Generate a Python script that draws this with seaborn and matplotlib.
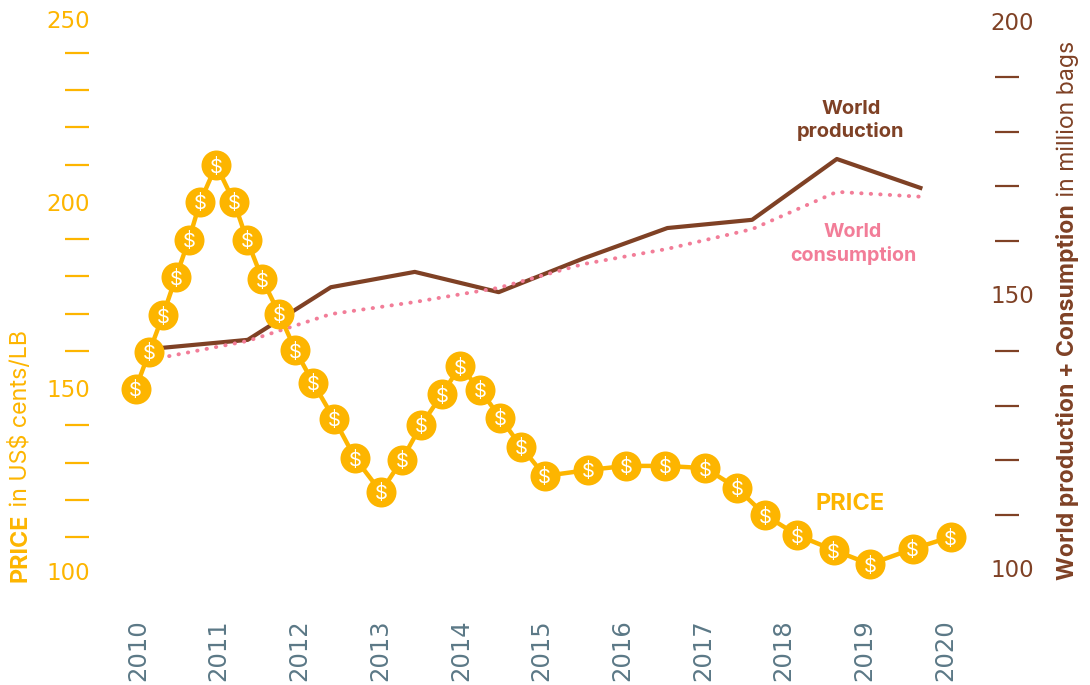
import matplotlib
matplotlib.use('Agg')
import matplotlib.pyplot as plt
import matplotlib.transforms as mtrans
import seaborn as sns

# Price
price_x = [2009.97, 2010.14, 2010.31, 2010.47, 2010.63, 2010.77, 2010.97, 2011.19, 2011.35,
           2011.54, 2011.75, 2011.95, 2012.17, 2012.43, 2012.69, 2013.01, 2013.27, 2013.51,
           2013.77, 2013.99, 2014.24, 2014.49, 2014.75, 2015.04, 2015.58, 2016.05, 2016.53,
           2017.03, 2017.42, 2017.77, 2018.17, 2018.62, 2019.07, 2019.60, 2020.07]
price = [149.8, 159.7, 169.6, 179.8, 189.8, 200.0, 209.9, 200.0, 189.8,
         179.3, 169.9, 160.2, 151.4, 141.7, 131.2, 122.1, 130.7, 140.1,
         148.4, 155.9, 149.5, 142.0, 134.2, 126.4, 128.0, 129.1, 129.1,
         128.5, 123.2, 115.9, 110.5, 106.5, 102.7, 106.8, 110.0]

# Production and consumption share the same x positions
world_x = [2010.27, 2011.36, 2012.39, 2013.43, 2014.47, 2015.51, 2016.56, 2017.61, 2018.66, 2019.72]
production = [140.5, 142.0, 151.6, 154.4, 150.7, 156.8, 162.4, 163.9, 175.0, 169.6]
consumption = [138.7, 141.8, 146.7, 148.9, 151.5, 155.8, 158.6, 162.2, 169.0, 168.1]

years = list(range(2010, 2021))
price_major = [100, 150, 200, 250]
price_minor = [110, 120, 130, 140, 160, 170, 180, 190, 210, 220, 230, 240]
world_major = [100, 150, 200]
world_minor = [110, 120, 130, 140, 160, 170, 180, 190]

YELLOW = '#FDB500'
BROWN = '#7F4125'
PINK = '#F27D98'
SLATE = '#5B7886'
NUMBER_FONT = 'DejaVu Sans'
LABEL_FONT = 'Inter'

sns.set_theme(style='white')
plt.rcParams['font.family'] = [LABEL_FONT, 'DejaVu Sans']

fig, ax = plt.subplots(figsize=(10.9, 6.85), dpi=100)
fig.subplots_adjust(left=89 / 1090, right=995 / 1090, top=1.0, bottom=85 / 685)
ax2 = ax.twinx()
ax.set_zorder(2)
ax.patch.set_visible(False)

# World lines
sns.lineplot(x=world_x, y=production, ax=ax2, color=BROWN, linewidth=3, solid_capstyle='butt')
sns.lineplot(x=world_x, y=consumption, ax=ax2, color=PINK, linewidth=2.8,
             linestyle=(0, (0.1, 2.35)), dash_capstyle='round')

# Price line with coin markers
sns.lineplot(x=price_x, y=price, ax=ax, color=YELLOW, linewidth=3.2, marker='o',
             markersize=21.6, markeredgewidth=0)
for x, y in zip(price_x, price):
    ax.text(x, y, '$', color='white', fontsize=14.5, family=LABEL_FONT,
            ha='center', va='center_baseline', zorder=5)

ax.set_xlim(2009.393, 2020.62)
ax.set_ylim(93.08, 254.24)
ax2.set_ylim(94.53, 204.01)

ax.set_xticks(years)
ax.set_xticklabels(years, rotation=90, color=SLATE, fontsize=17.5, family=NUMBER_FONT)
ax.tick_params(axis='x', length=0, pad=14)

ax.set_yticks(price_major)
ax.set_yticks(price_minor, minor=True)
ax.set_yticklabels(price_major, color=YELLOW, fontsize=16.5, family=NUMBER_FONT)
ax.tick_params(axis='y', which='major', length=0, pad=31)
ax.tick_params(axis='y', which='minor', length=17, width=1.6, color=YELLOW, left=True)

ax2.set_yticks(world_major)
ax2.set_yticks(world_minor, minor=True)
ax2.set_yticklabels(world_major, color=BROWN, fontsize=16.5, family=NUMBER_FONT)
ax2.tick_params(axis='y', which='major', length=0, pad=-3)
ax2.tick_params(axis='y', which='minor', length=17, width=1.6, color=BROWN, right=True)

# The printed numbers sit slightly off their tick positions
for label, dy in zip(ax.get_yticklabels(), [3, 0, 0, -3]):
    label.set_ha('left')
    label.set_transform(label.get_transform() + mtrans.Affine2D().translate(0, dy))
for label, dy in zip(ax2.get_yticklabels(), [2, 2, 1]):
    label.set_ha('left')
    label.set_transform(label.get_transform() + mtrans.Affine2D().translate(0, dy))

sns.despine(ax=ax, left=True, right=True, top=True, bottom=True)
sns.despine(ax=ax2, left=True, right=True, top=True, bottom=True)

# Direct labels
ax2.text(2018.835, 182.0, 'World\nproduction', color=BROWN, fontsize=14.5, fontweight='bold',
         family=LABEL_FONT, ha='center', va='center', linespacing=1.3)
ax2.text(2018.86, 159.5, 'World\nconsumption', color=PINK, fontsize=14.2, fontweight='bold',
         family=LABEL_FONT, ha='center', va='center', linespacing=1.3)
ax.text(2018.82, 118.9, 'PRICE', color=YELLOW, fontsize=17, fontweight='bold',
        family=LABEL_FONT, ha='center', va='center')


def axis_title(x_px, y_px, bold, rest, color, size):
    # two-weight vertical title: the light part starts where the bold part ends
    kw = dict(rotation=90, rotation_mode='anchor', ha='left', va='baseline',
              color=color, fontsize=size, family=LABEL_FONT, transform=None)
    first = fig.text(x_px, 685 - y_px, bold, fontweight='bold', **kw)
    fig.canvas.draw()
    top = first.get_window_extent().y1
    fig.text(x_px, top + 1, rest, **kw)


axis_title(27, 582, 'PRICE', ' in US$ cents/LB', YELLOW, 16.8)
axis_title(1074, 580, 'World production + Consumption', ' in million bags', BROWN, 16.6)

fig.savefig('out.png', dpi=100)
